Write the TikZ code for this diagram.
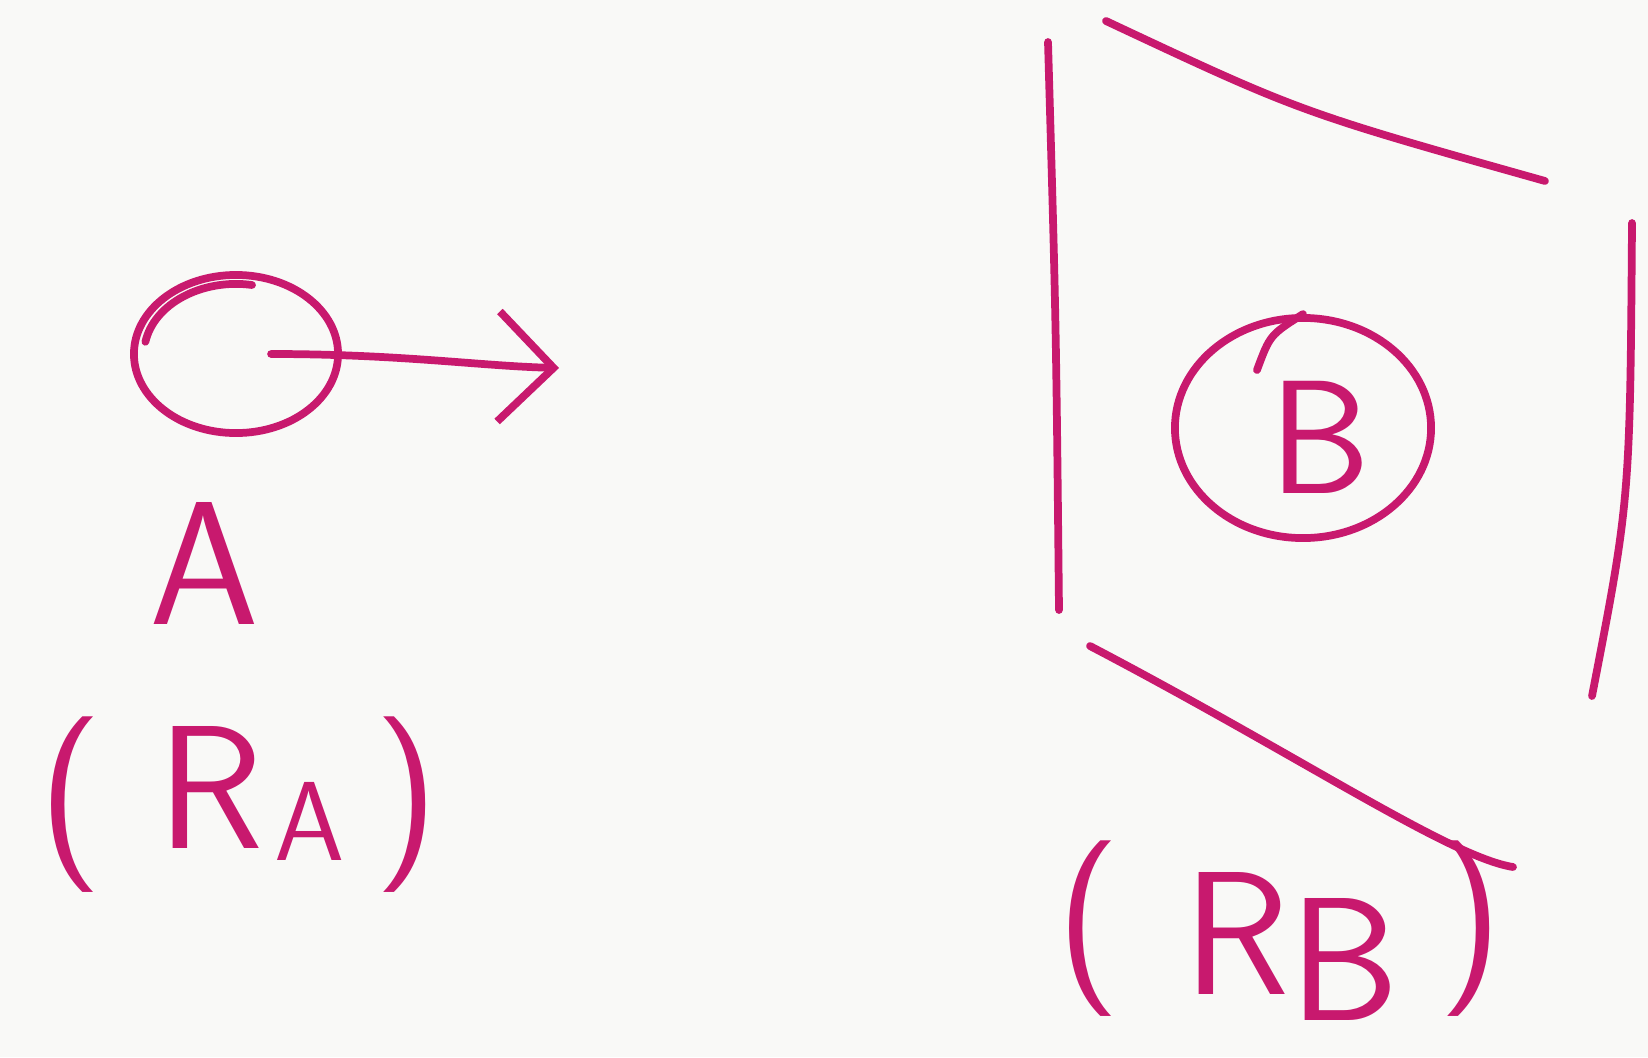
\documentclass[tikz,border=0pt]{standalone}
\usetikzlibrary{positioning,arrows.meta,shapes.geometric}
\definecolor{ink}{HTML}{C8196E}
\definecolor{paper}{HTML}{F9F9F7}

\begin{document}
\begin{tikzpicture}[
  x=0.01cm, y=-0.01cm,
  pen/.style={draw=ink, line width=2.2pt, line cap=round},
  blob/.style={pen, ellipse, inner sep=0pt},
  hand/.style={text=ink, inner sep=0pt, font=\sffamily\fontsize{50}{56}\selectfont}
]
  \fill[paper] (0,0) rectangle (1648,1057);
  \useasboundingbox (0,0) rectangle (1648,1057);

  % left: particle A and its arrow
  \node[blob, minimum width=2.04cm, minimum height=1.58cm] (circA) at (236,354) {};
  \draw[pen] ([shift={(-90.6,-12.2)}]circA.center)
    arc[start angle=170, end angle=80, x radius=0.92cm, y radius=0.70cm];
  \coordinate (tipA) at (559,368);
  \draw[pen, -{Straight Barb[length=5.5mm, width=11mm, line width=2.2pt]}]
    ([xshift=0.35cm]circA.center) .. controls (400,354) and (480,366) .. (tipA);
  \node[hand] (labA) at (204,563) {A};
  \node[hand] (regA) at (239,805) {(\hspace{0.55cm}R\hspace{0.1cm}\raisebox{-0.12cm}{\fontsize{32}{32}\selectfont A}\hspace{0.3cm})};

  % right: region B as a plane
  \draw[pen] (1048,42) .. controls (1056,320) .. (1059,610);
  \draw[pen] (1106,21) .. controls (1300,112) .. (1545,181);
  \draw[pen] (1632,223) .. controls (1630,500) .. (1592,696);
  \draw[pen] (1090,646) .. controls (1300,756) and (1450,857) .. (1513,867);

  \node[blob, minimum width=2.56cm, minimum height=2.2cm] (circB) at (1303,428) {};
  \draw[pen] (circB.north) .. controls (1270,335) .. (1257,370);
  \node[hand, font=\sffamily\fontsize{46}{50}\selectfont] (labB) at (1320,437) {B};
  \node[hand, anchor=base west] (regB) at (1056,972)
    {(\hspace{0.62cm}\raisebox{-0.22cm}{R}\raisebox{-0.48cm}{B}\hspace{0.39cm})};
\end{tikzpicture}
\end{document}
